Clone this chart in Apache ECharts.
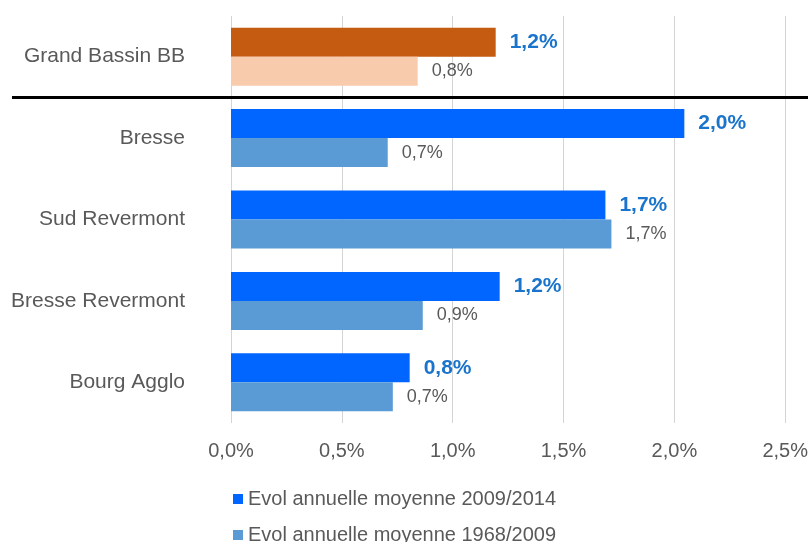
<!DOCTYPE html>
<html>
<head>
<meta charset="utf-8">
<script src="https://cdn.jsdelivr.net/npm/echarts@6/dist/echarts.min.js"></script>
<style>html,body{margin:0;padding:0;background:#fff}#c{width:811px;height:542px}</style>
</head>
<body>
<div id="c"></div>
<script>
var categories = ['Grand Bassin BB', 'Bresse', 'Sud Revermont', 'Bresse Revermont', 'Bourg Agglo'];
var seriesNames = ['Evol annuelle moyenne 2009/2014', 'Evol annuelle moyenne 1968/2009'];
var recent = [1.194, 2.045, 1.689, 1.212, 0.806];
var longTerm = [0.842, 0.707, 1.716, 0.865, 0.73];
var tickMin = 0, tickMax = 2.5, tickStep = 0.5;

var C_DARK = '#0066ff', C_LIGHT = '#5b9bd5', C_ORANGE = '#c55a11', C_PEACH = '#f8cbad';
var TXT = '#595959', LBL = '#1a74cc';
var FONT = '"Liberation Sans", Arial, sans-serif';

function fmt(v) { return v.toFixed(1).replace('.', ',') + '%'; }

function build(arr, highlight) {
  return arr.map(function (v, i) {
    return i === 0 ? { value: v, itemStyle: { color: highlight } } : v;
  });
}

function legendFor(name, top) {
  return {
    orient: 'vertical', left: 228, top: top,
    itemWidth: 10, itemHeight: 10, icon: 'rect', itemGap: 4,
    textStyle: { color: TXT, fontSize: 20, fontFamily: FONT },
    data: [name]
  };
}

var chart = echarts.init(document.getElementById('c'), null, { renderer: 'canvas' });
var option = {
  animation: false,
  textStyle: { fontFamily: FONT },
  grid: { left: 231, right: 25, top: 16, bottom: 119, containLabel: false },
  xAxis: {
    type: 'value', min: tickMin, max: tickMax, interval: tickStep,
    axisLine: { show: false }, axisTick: { show: false },
    splitLine: { show: true, lineStyle: { color: '#d4d4d4', width: 1 } },
    axisLabel: { formatter: function (v) { return fmt(v); }, color: TXT, fontSize: 20, fontFamily: FONT, margin: 18 }
  },
  yAxis: {
    type: 'category', data: categories, inverse: true,
    axisLine: { show: false }, axisTick: { show: false },
    axisLabel: { color: TXT, fontSize: 21, fontFamily: FONT, margin: 46 }
  },
  legend: [legendFor(seriesNames[0], 484), legendFor(seriesNames[1], 520)],
  series: [
    {
      name: seriesNames[0], type: 'bar', data: build(recent, C_ORANGE),
      itemStyle: { color: C_DARK }, barWidth: 29, barGap: '0%',
      label: { show: true, position: 'right', distance: 14, formatter: function (p) { return fmt(p.value); },
        color: LBL, fontWeight: 'bold', fontSize: 21, fontFamily: FONT }
    },
    {
      name: seriesNames[1], type: 'bar', data: build(longTerm, C_PEACH),
      itemStyle: { color: C_LIGHT }, barWidth: 29, barGap: '0%',
      label: { show: true, position: 'right', distance: 14, formatter: function (p) { return fmt(p.value); },
        color: TXT, fontSize: 18, fontFamily: FONT }
    }
  ]
};
chart.setOption(option);

// separator line between first category band and the rest
var y0 = chart.convertToPixel({ yAxisIndex: 0 }, categories[0]);
var y1 = chart.convertToPixel({ yAxisIndex: 0 }, categories[1]);
var sepY = (y0 + y1) / 2;
chart.setOption({
  graphic: [{
    type: 'line', z: 100,
    shape: { x1: 12, y1: sepY, x2: chart.getWidth() - 3, y2: sepY },
    style: { stroke: '#000', lineWidth: 3 }
  }]
});
</script>
</body>
</html>
